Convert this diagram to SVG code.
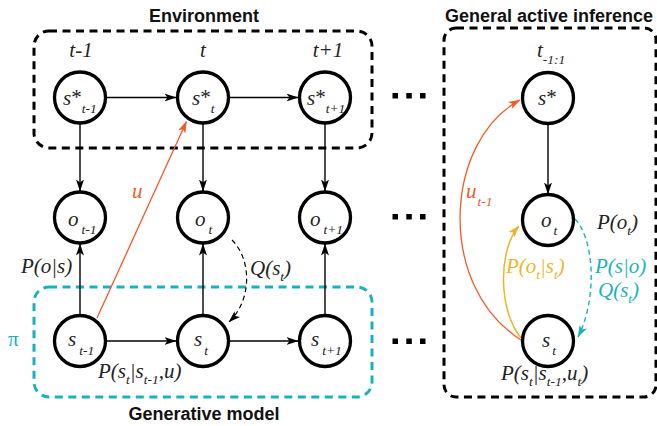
<svg xmlns="http://www.w3.org/2000/svg" width="657" height="426" viewBox="0 0 657 426">
  <style>
    .node { fill: #ffffff; stroke: #000000; stroke-width: 3.3; }
    .edge { fill: none; stroke: #000000; stroke-width: 1.4; }
    .e-red { fill: none; stroke: #f05a28; stroke-width: 1.3; }
    .e-yel { fill: none; stroke: #f0b429; stroke-width: 1.5; }
    .e-cya { fill: none; stroke: #18b2bf; stroke-width: 1.4; stroke-dasharray: 5 3.5; }
    .e-dash { fill: none; stroke: #000000; stroke-width: 1.2; stroke-dasharray: 5 3.5; }
    .box { fill: none; stroke-width: 3; stroke-dasharray: 8 5.5; }
    .box-k { stroke: #000000; }
    .box-c { stroke: #18b2bf; }
    .title { font-family: "Liberation Sans", Arial, sans-serif; font-weight: bold; font-size: 18px; fill: #111111; }
    .m { font-family: "Liberation Serif", "Times New Roman", serif; font-style: italic; font-size: 21px; fill: #222222; }
    .up { font-style: normal; }
    .sb { font-size: 13.5px; }
    .red { fill: #f05a28; }
    .yel { fill: #f0b429; }
    .cya { fill: #18b2bf; }
  </style>
  <defs>
    <marker id="ah" viewBox="0 0 12 10" refX="11.5" refY="5" markerWidth="12" markerHeight="10" markerUnits="userSpaceOnUse" orient="auto">
      <path d="M0,1 L12,5 L0,9 L3,5 Z" fill="#000000"/>
    </marker>
    <marker id="ah-red" viewBox="0 0 12 10" refX="11.5" refY="5" markerWidth="12" markerHeight="10" markerUnits="userSpaceOnUse" orient="auto">
      <path d="M0,1 L12,5 L0,9 L3,5 Z" fill="#f05a28"/>
    </marker>
    <marker id="ah-yel" viewBox="0 0 12 10" refX="11.5" refY="5" markerWidth="12" markerHeight="10" markerUnits="userSpaceOnUse" orient="auto">
      <path d="M0,1 L12,5 L0,9 L3,5 Z" fill="#f0b429"/>
    </marker>
    <marker id="ah-cya" viewBox="0 0 12 10" refX="11.5" refY="5" markerWidth="12" markerHeight="10" markerUnits="userSpaceOnUse" orient="auto">
      <path d="M0,1 L12,5 L0,9 L3,5 Z" fill="#18b2bf"/>
    </marker>
  </defs>

  <rect width="657" height="426" fill="#ffffff"/>

  <!-- grouping boxes -->
  <g id="environment">
    <rect class="box box-k" x="34" y="31" width="338" height="117" rx="15"/>
    <text class="title" x="204" y="22" text-anchor="middle">Environment</text>
  </g>
  <g id="generative-model">
    <rect class="box box-c" x="34" y="287" width="338" height="110" rx="15"/>
    <text class="title" x="204" y="420" text-anchor="middle">Generative model</text>
    <text class="m up cya" x="8" y="346">π</text>
  </g>
  <g id="general-active-inference">
    <rect class="box box-k" x="444" y="28" width="212" height="369" rx="12"/>
    <text class="title" x="445" y="22" font-size="18.5">General active inference</text>
  </g>

  <!-- time labels -->
  <g id="time-labels" class="m">
    <text x="81" y="57" text-anchor="middle">t-1</text>
    <text x="203" y="57" text-anchor="middle">t</text>
    <text x="328" y="57" text-anchor="middle">t+1</text>
    <text x="537" y="57">t<tspan class="sb" font-size="12" dy="7">-1:1</tspan></text>
  </g>

  <!-- connectors -->
  <g id="connectors">
    <line class="edge" x1="107" y1="97.5" x2="176" y2="97.5" marker-end="url(#ah)"/>
    <line class="edge" x1="230" y1="97.5" x2="298" y2="97.5" marker-end="url(#ah)"/>
    <line class="edge" x1="80" y1="124" x2="80" y2="191" marker-end="url(#ah)"/>
    <line class="edge" x1="203" y1="124" x2="203" y2="191" marker-end="url(#ah)"/>
    <line class="edge" x1="325" y1="124" x2="325" y2="191" marker-end="url(#ah)"/>
    <line class="edge" x1="80" y1="314" x2="80" y2="244" marker-end="url(#ah)"/>
    <line class="edge" x1="203" y1="314" x2="203" y2="244" marker-end="url(#ah)"/>
    <line class="edge" x1="325" y1="314" x2="325" y2="244" marker-end="url(#ah)"/>
    <line class="edge" x1="107" y1="341" x2="176" y2="341" marker-end="url(#ah)"/>
    <line class="edge" x1="230" y1="341" x2="298" y2="341" marker-end="url(#ah)"/>
    <line class="e-red" x1="97" y1="318" x2="186.5" y2="121.5" marker-end="url(#ah-red)"/>
    <path class="e-dash" d="M232 240 C252 260 252 300 229 322" marker-end="url(#ah)"/>
    <line class="edge" x1="548" y1="125" x2="548" y2="194" marker-end="url(#ah)"/>
    <path class="e-red" d="M521 340 C435 285 445 140 520 100" marker-end="url(#ah-red)"/>
    <path class="e-yel" d="M521 338 C498 310 498 250 519 226" marker-end="url(#ah-yel)"/>
    <path class="e-cya" d="M575 219 C595 240 597 300 578 337" marker-end="url(#ah-cya)"/>
  </g>

  <!-- continuation dots -->
  <g id="ellipses" fill="#000000">
    <rect x="392.5" y="93" width="5.5" height="5.5"/>
    <rect x="406.3" y="93" width="5.5" height="5.5"/>
    <rect x="420" y="93" width="5.5" height="5.5"/>
    <rect x="392.5" y="214" width="5.5" height="5.5"/>
    <rect x="406.3" y="214" width="5.5" height="5.5"/>
    <rect x="420" y="214" width="5.5" height="5.5"/>
    <rect x="392.5" y="338.5" width="5.5" height="5.5"/>
    <rect x="406.3" y="338.5" width="5.5" height="5.5"/>
    <rect x="420" y="338.5" width="5.5" height="5.5"/>
  </g>

  <!-- hidden states of the environment -->
  <g id="s-star-t-minus-1">
    <circle class="node" cx="80" cy="97.5" r="25.5"/>
    <text class="m" x="63" y="105">s<tspan class="up" dy="-1">*</tspan><tspan class="sb" dy="9">t-1</tspan></text>
  </g>
  <g id="s-star-t">
    <circle class="node" cx="203" cy="97.5" r="25.5"/>
    <text class="m" x="192" y="105">s<tspan class="up" dy="-1">*</tspan><tspan class="sb" dy="9">t</tspan></text>
  </g>
  <g id="s-star-t-plus-1">
    <circle class="node" cx="325" cy="97.5" r="25.5"/>
    <text class="m" x="307" y="105">s<tspan class="up" dy="-1">*</tspan><tspan class="sb" dy="9">t+1</tspan></text>
  </g>

  <!-- observations -->
  <g id="o-t-minus-1">
    <circle class="node" cx="80" cy="217.5" r="25.5"/>
    <text class="m" x="68" y="226">o<tspan class="sb" dx="3" dy="8">t-1</tspan></text>
  </g>
  <g id="o-t">
    <circle class="node" cx="203" cy="217.5" r="25.5"/>
    <text class="m" x="195" y="226">o<tspan class="sb" dx="3" dy="8">t</tspan></text>
  </g>
  <g id="o-t-plus-1">
    <circle class="node" cx="325" cy="217.5" r="25.5"/>
    <text class="m" x="310" y="226">o<tspan class="sb" dx="3" dy="8">t+1</tspan></text>
  </g>

  <!-- model states -->
  <g id="s-t-minus-1">
    <circle class="node" cx="80" cy="341" r="25.5"/>
    <text class="m" x="68" y="346">s<tspan class="sb" dx="3" dy="9">t-1</tspan></text>
  </g>
  <g id="s-t">
    <circle class="node" cx="203" cy="341" r="25.5"/>
    <text class="m" x="194" y="346">s<tspan class="sb" dx="2" dy="9">t</tspan></text>
  </g>
  <g id="s-t-plus-1">
    <circle class="node" cx="325" cy="341" r="25.5"/>
    <text class="m" x="311" y="346">s<tspan class="sb" dx="3" dy="9">t+1</tspan></text>
  </g>

  <!-- general active inference nodes -->
  <g id="gai-s-star">
    <circle class="node" cx="548" cy="98" r="25.5"/>
    <text class="m" x="538" y="105">s<tspan class="up" dy="-1">*</tspan></text>
  </g>
  <g id="gai-o-t">
    <circle class="node" cx="548" cy="220" r="25.5"/>
    <text class="m" x="541" y="227">o<tspan class="sb" dx="2" dy="8">t</tspan></text>
  </g>
  <g id="gai-s-t">
    <circle class="node" cx="548" cy="341" r="25.5"/>
    <text class="m" x="542" y="347">s<tspan class="sb" dx="2" dy="8">t</tspan></text>
  </g>

  <!-- connector labels -->
  <g id="labels" class="m">
    <text class="red" x="132" y="198">u</text>
    <text x="250" y="275">Q(s<tspan class="sb" dy="6">t</tspan><tspan dy="-6">)</tspan></text>
    <text x="21" y="273">P(o|s)</text>
    <text x="98" y="378">P(s<tspan class="sb" dy="6">t</tspan><tspan dy="-6">|s</tspan><tspan class="sb" dy="6">t-1</tspan><tspan dy="-6">,u)</tspan></text>
    <text class="red" x="466" y="198">u<tspan class="sb" dx="1" dy="8">t-1</tspan></text>
    <text x="597" y="229">P(o<tspan class="sb" dy="6">t</tspan><tspan dy="-6">)</tspan></text>
    <text class="yel" x="506" y="273">P(o<tspan class="sb" dy="6">t</tspan><tspan dy="-6">|s</tspan><tspan class="sb" dy="6">t</tspan><tspan dy="-6">)</tspan></text>
    <text class="cya" x="595" y="273">P(s|o)</text>
    <text class="cya" x="598" y="297">Q(s<tspan class="sb" dy="6">t</tspan><tspan dy="-6">)</tspan></text>
    <text x="501" y="380">P(s<tspan class="sb" dy="6">t</tspan><tspan dy="-6">|s</tspan><tspan class="sb" dy="6">t-1</tspan><tspan dy="-6">,u</tspan><tspan class="sb" dy="6">t</tspan><tspan dy="-6">)</tspan></text>
  </g>
</svg>
